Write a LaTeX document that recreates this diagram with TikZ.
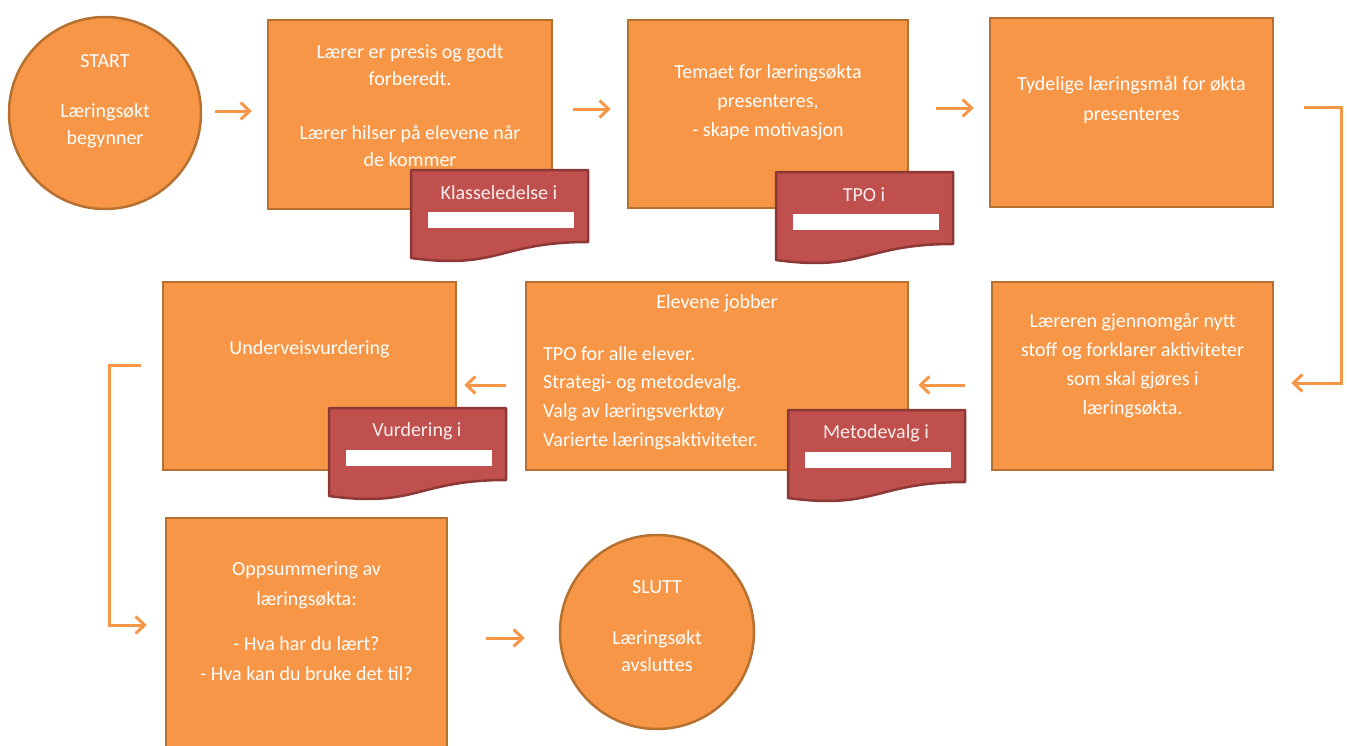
\documentclass[tikz,border=0pt]{standalone}
\usepackage{fontspec}
\setmainfont{Carlito}
\usepackage{xcolor}
\usetikzlibrary{arrows.meta}
\definecolor{orfill}{HTML}{F79646}
\definecolor{ordraw}{HTML}{B6702F}
\definecolor{rdfill}{HTML}{C0504D}
\definecolor{rddraw}{HTML}{8C3836}

\begin{document}
\begin{tikzpicture}[x=1pt, y=-1pt,
    every node/.style={font=\fontsize{20}{27}\selectfont, text=white},
    box/.style={draw=ordraw, fill=orfill, line width=2.5pt, inner sep=0pt},
    ball/.style={circle, draw=ordraw, fill=orfill, line width=2.5pt, inner sep=0pt},
    txt/.style={align=center, inner sep=0pt},
    docshape/.style={fill=rdfill, draw=rddraw, line width=2.5pt, line join=round},
    doclbl/.style={inner sep=0pt, text=white!90!rdfill},
    arr/.style={draw=orfill, line width=3pt, -{Straight Barb[length=9pt,width=17pt]}}
]
\useasboundingbox (0,0) rectangle (1347,745);
\clip (0,0) rectangle (1347,745);

% shapes
\node[ball, minimum size=192pt] (start) at (105,113) {};
\node[box, minimum width=284pt, minimum height=189pt] (b1) at (410,114.5) {};
\node[box, minimum width=280pt, minimum height=188pt] (b2) at (768,114) {};
\node[box, minimum width=283pt, minimum height=189pt] (b3) at (1131.5,112.5) {};
\node[box, minimum width=281pt, minimum height=188pt] (b4) at (1132.5,376) {};
\node[box, minimum width=382pt, minimum height=188pt] (b5) at (717,376) {};
\node[box, minimum width=293pt, minimum height=188pt] (b6) at (309.5,376) {};
\node[box, minimum width=281pt, minimum height=240pt] (b7) at (306.5,638) {};
\node[ball, minimum size=194pt] (slutt) at (657,632) {};

% texts
\node[txt] (t0) at (105,101.5) {START\\[23pt]Læringsøkt\\begynner};
\node[txt] (t1) at (410,106) {Lærer er presis og godt\\forberedt.\\[27pt]Lærer hilser på elevene når\\de kommer};
\node[txt] (t2) at (768,102.5) {Temaet for læringsøkta\\[2pt]presenteres,\\[2pt]- skape motivasjon};
\node[txt] (t3) at (1131.5,100) {Tydelige læringsmål for økta\\[3pt]presenteres};
\node[txt] (t4) at (1132.5,365.5) {Læreren gjennomgår nytt\\[2pt]stoff og forklarer aktiviteter\\[2pt]som skal gjøres i\\[2pt]læringsøkta.};
\node[txt] (t5) at (717,303) {Elevene jobber};
\node[txt, align=left, anchor=west] (t5b) at (543,398.5) {TPO for alle elever.\\[1pt]Strategi- og metodevalg.\\[2pt]Valg av læringsverktøy\\[2pt]Varierte læringsaktiviteter.};
\node[txt] (t6) at (309.5,349) {Underveisvurdering};
\node[txt] (t7) at (306.5,621) {Oppsummering av\\[3pt]læringsøkta:\\[18pt]- Hva har du lært?\\[3pt]- Hva kan du bruke det til?};
\node[txt] (t8) at (657,626) {SLUTT\\[24pt]Læringsøkt\\avsluttes};

% documents
\foreach \n/\x/\y/\lbl in {1/411/170/Klasseledelse i, 2/776/172/TPO i, 3/329/408/Vurdering i, 4/788/410/Metodevalg i}{
  \draw[docshape] (\x,\y) -- (\x+177,\y) -- (\x+177,\y+72)
    .. controls (\x+88,\y+72) and (\x+88,\y+100) .. (\x,\y+88) -- cycle;
  \fill[white] (\x+17,\y+42) rectangle (\x+163,\y+58);
  \node[doclbl] (d\n) at (\x+88,\y+23) {\lbl};
}

% arrows
\draw[arr, shorten <=13pt, shorten >=15pt] ([yshift=2pt]start.east) -- ([yshift=3.5pt]b1.west);
\draw[arr, shorten <=20pt, shorten >=16pt] ([yshift=5.5pt]b1.east) -- ([yshift=5pt]b2.west);
\draw[arr, shorten <=27pt, shorten >=15pt] ([yshift=6pt]b2.east) -- ([yshift=4.5pt]b3.west);
\draw[arr, shorten <=30pt, shorten >=17pt] ([yshift=5.5pt]b3.east) -- ++(67,0) |- ([yshift=-7pt]b4.east);
\draw[arr, shorten <=26pt, shorten >=9pt] ([yshift=-9pt]b4.west) -- ([yshift=-9pt]b5.east);
\draw[arr, shorten <=19pt, shorten >=7pt] ([yshift=-9pt]b5.west) -- ([yshift=-9pt]b6.east);
\draw[arr, shorten <=21pt, shorten >=18pt] ([yshift=11pt]b6.west) -- ++(-52,0) |- ([yshift=13pt]b7.west);
\draw[arr, shorten <=38pt, shorten >=34pt] (b7.east) -- ([yshift=-6pt]slutt.west);
\end{tikzpicture}
\end{document}
